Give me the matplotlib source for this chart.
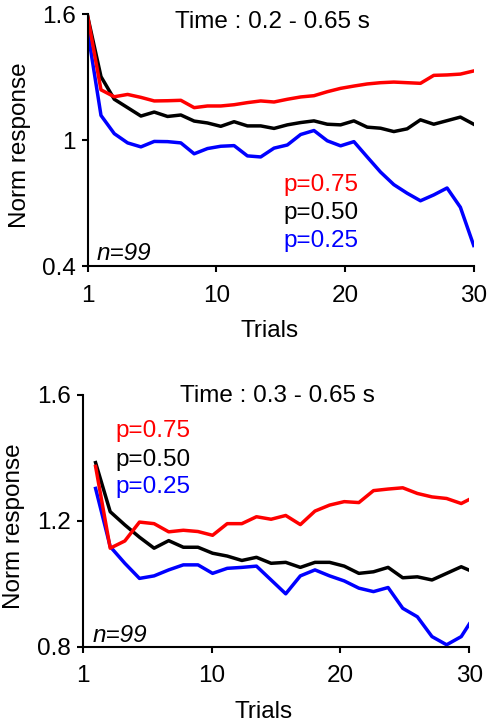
import numpy as np
import matplotlib
matplotlib.use("Agg")
import matplotlib.pyplot as plt

plt.rcParams['font.family'] = ['Liberation Sans', 'DejaVu Sans']

# ---- data ----
# top panel: 30 trials spread over the 0..30 axis
top_x = np.linspace(0, 30, 30)
top_red = [1.59, 1.24, 1.207, 1.218, 1.204, 1.187, 1.188, 1.19, 1.155, 1.163,
           1.163, 1.169, 1.179, 1.187, 1.182, 1.195, 1.206, 1.212, 1.231, 1.247,
           1.258, 1.268, 1.274, 1.277, 1.274, 1.271, 1.309, 1.311, 1.315, 1.33]
top_black = [1.59, 1.303, 1.195, 1.155, 1.115, 1.134, 1.113, 1.12, 1.091, 1.082,
             1.066, 1.088, 1.068, 1.068, 1.056, 1.073, 1.084, 1.092, 1.076, 1.073,
             1.092, 1.062, 1.057, 1.041, 1.054, 1.097, 1.076, 1.093, 1.11, 1.076]
top_blue = [1.52, 1.118, 1.031, 0.987, 0.968, 0.994, 0.993, 0.987, 0.935, 0.96,
            0.971, 0.974, 0.925, 0.92, 0.962, 0.977, 1.027, 1.046, 0.997, 0.973,
            0.993, 0.92, 0.848, 0.788, 0.747, 0.711, 0.739, 0.772, 0.68, 0.498]

# bottom panel
bot_x = np.append(1.0 + 1.135 * np.arange(26), 30.0)
bot_red = [1.373, 1.113, 1.136, 1.196, 1.191, 1.165, 1.17, 1.166, 1.154, 1.191,
           1.191, 1.213, 1.205, 1.217, 1.188, 1.231, 1.25, 1.261, 1.258, 1.296,
           1.301, 1.305, 1.287, 1.276, 1.271, 1.255, 1.268]
bot_black = [1.385, 1.229, 1.187, 1.148, 1.113, 1.137, 1.116, 1.116, 1.097, 1.088,
             1.074, 1.084, 1.065, 1.068, 1.052, 1.068, 1.068, 1.056, 1.033, 1.038,
             1.052, 1.019, 1.022, 1.012, 1.033, 1.054, 1.043]
bot_blue = [1.303, 1.118, 1.065, 1.017, 1.025, 1.044, 1.06, 1.06, 1.033, 1.049,
            1.052, 1.056, 1.012, 0.968, 1.025, 1.044, 1.025, 1.009, 0.986, 0.975,
            0.988, 0.922, 0.895, 0.832, 0.806, 0.832, 0.872]

labels = ['p=0.75', 'p=0.50', 'p=0.25']
colors = ['red', 'black', 'blue']
xticks = [0, 10, 20, 30]
xticklabels = ['1', '10', '20', '30']

fs = 17.5
fig = plt.figure(figsize=(4.89, 7.27), dpi=100)


def style(ax, ylim, yticks, yticklabels):
    ax.set_xlim(0, 30)
    ax.set_ylim(*ylim)
    ax.set_xticks(xticks)
    ax.set_xticklabels(xticklabels)
    ax.set_yticks(yticks)
    ax.set_yticklabels(yticklabels)
    for s in ['top', 'right']:
        ax.spines[s].set_visible(False)
    for s in ['left', 'bottom']:
        ax.spines[s].set_linewidth(1.5)
    ax.tick_params(direction='out', length=4.5, width=1.5, labelsize=fs, pad=4)
    ax.tick_params(axis='x', pad=9)


# ---- top panel ----
ax1 = fig.add_axes([0.1793, 0.6341, 0.7894, 0.3462])
for ys, c in zip([top_blue, top_black, top_red], ['blue', 'black', 'red']):
    ax1.plot(top_x, ys, color=c, lw=2.5, solid_joinstyle='round')
style(ax1, (0.4, 1.6), [0.4, 1.0, 1.6], ['0.4', '1', '1.6'])
ax1.text(0.478, 0.944, 'Time : 0.2 - 0.65 s', transform=ax1.transAxes,
         ha='center', va='baseline', fontsize=fs)
for lab, c, yy in zip(labels, colors, [0.298, 0.187, 0.077]):
    ax1.text(0.506, yy, lab, color=c, transform=ax1.transAxes,
             ha='left', va='baseline', fontsize=fs)
ax1.text(0.024, 0.024, 'n=99', style='italic', transform=ax1.transAxes,
         ha='left', va='baseline', fontsize=fs)
ax1.set_xlabel('Trials', fontsize=fs, va='baseline')
ax1.xaxis.set_label_coords(0.47, -0.281)
ax1.set_ylabel('Norm response', fontsize=fs)
ax1.yaxis.set_label_coords(-0.148, 0.48)

# ---- bottom panel ----
ax2 = fig.add_axes([0.1691, 0.1105, 0.7906, 0.3462])
for ys, c in zip([bot_blue, bot_black, bot_red], ['blue', 'black', 'red']):
    ax2.plot(bot_x, ys, color=c, lw=2.5, solid_joinstyle='round')
style(ax2, (0.8, 1.6), [0.8, 1.2, 1.6], ['0.8', '1.2', '1.6'])
ax2.text(0.504, 0.971, 'Time : 0.3 - 0.65 s', transform=ax2.transAxes,
         ha='center', va='baseline', fontsize=fs)
for lab, c, yy in zip(labels, colors, [0.834, 0.719, 0.609]):
    ax2.text(0.0835, yy, lab, color=c, transform=ax2.transAxes,
             ha='left', va='baseline', fontsize=fs)
ax2.text(0.026, 0.02, 'n=99', style='italic', transform=ax2.transAxes,
         ha='left', va='baseline', fontsize=fs)
ax2.set_xlabel('Trials', fontsize=fs, va='baseline')
ax2.xaxis.set_label_coords(0.469, -0.284)
ax2.set_ylabel('Norm response', fontsize=fs)
ax2.yaxis.set_label_coords(-0.148, 0.48)

fig.savefig('out.png', dpi=100)
